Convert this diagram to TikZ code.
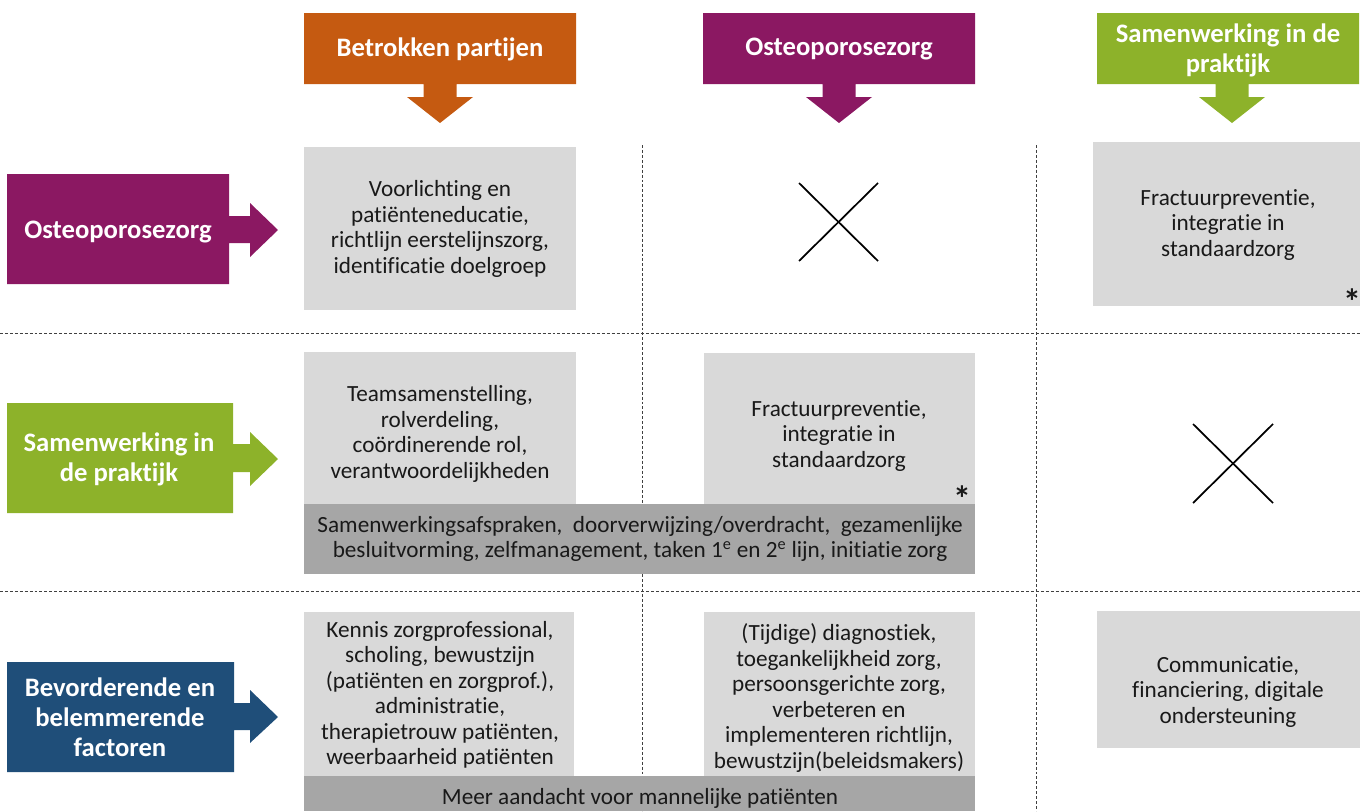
\documentclass[tikz,border=0pt]{standalone}
\usepackage{fontspec}
\setmainfont{Carlito}[RawFeature=-liga]
\usepackage{tikz}
\definecolor{partijen}{HTML}{C55A11}
\definecolor{zorg}{HTML}{8B1862}
\definecolor{samen}{HTML}{8DB22A}
\definecolor{factoren}{HTML}{1F4E79}
\definecolor{cell}{HTML}{D9D9D9}
\definecolor{bar}{HTML}{A6A6A6}

\begin{document}
\begin{tikzpicture}[x=0.75pt,y=-0.75pt,
  txt/.style={align=center,inner sep=0pt,text=black!90,font=\fontsize{17.4}{19.1}\selectfont},
  hdr/.style={align=center,inner sep=0pt,text=white,font=\fontsize{20}{22.5}\selectfont\bfseries},
  ster/.style={inner sep=0pt,text=black!90,font=\fontsize{27}{27}\selectfont\bfseries},
  grid/.style={dash pattern=on 2.2pt off 1.5pt,line width=0.7pt,black!75},
  cross/.style={line width=1.3pt,black}]
\useasboundingbox (0,0) rectangle (1360,811);
% dashed grid
\draw[grid] (0,333)--(1360,333);
\draw[grid] (0,591)--(1360,591);
\draw[grid] (642,145)--(642,811);
\draw[grid] (1036,145)--(1036,811);
% column headers
\fill[partijen] (304,13)--(576,13)--(576,84)--(456.5,84)--(456.5,97)--(473,97)--(440,123)--(407,97)--(423.5,97)--(423.5,84)--(304,84)--cycle;
\fill[zorg] (703,13)--(975,13)--(975,84)--(855.5,84)--(855.5,97)--(872,97)--(839,123)--(806,97)--(822.5,97)--(822.5,84)--(703,84)--cycle;
\fill[samen] (1097,13)--(1359,13)--(1359,84)--(1248.5,84)--(1248.5,97)--(1265,97)--(1232,123)--(1199,97)--(1215.5,97)--(1215.5,84)--(1097,84)--cycle;
\node[hdr] (hpartijen) at (440,49) {Betrokken partijen};
\node[hdr] (hzorg) at (839,49) {Osteoporosezorg};
\node[hdr] (hsamen) at (1228,50) {Samenwerking in de\\praktijk};
% row labels
\fill[zorg] (7,174)--(229,174)--(229,216)--(250,216)--(250,203)--(278,230)--(250,257)--(250,243)--(229,243)--(229,284)--(7,284)--cycle;
\fill[samen] (7,403)--(233,403)--(233,444)--(250,444)--(250,432)--(278,459)--(250,486)--(250,472)--(233,472)--(233,513)--(7,513)--cycle;
\fill[factoren] (7,662)--(234,662)--(234,703)--(250,703)--(250,690)--(278,717)--(250,743)--(250,730)--(234,730)--(234,772)--(7,772)--cycle;
\node[hdr] (lzorg) at (118,232) {Osteoporosezorg};
\node[hdr] (lsamen) at (119,459) {Samenwerking in\\de praktijk};
\node[hdr] (lfactoren) at (120,717) {Bevorderende en\\belemmerende\\factoren};
% row 1
\fill[cell] (304,147) rectangle (576,310);
\fill[cell] (1093,142) rectangle (1360,306);
\node[txt] (zorgpartijen) at (440,229) {Voorlichting en\\patiënteneducatie,\\richtlijn eerstelijnszorg,\\identificatie doelgroep};
\node[txt] (zorgsamen) at (1228,225) {Fractuurpreventie,\\integratie in\\standaardzorg};
\node[ster] (ster1) at (1352,302) {*};
\draw[cross] (799,183)--(878,261);
\draw[cross] (878,183)--(799,261);
% row 2
\fill[cell] (304,352) rectangle (576,504);
\fill[cell] (704,353) rectangle (975,504);
\fill[bar] (304,504) rectangle (975,574);
\node[txt] (samenpartijen) at (440,434) {Teamsamenstelling,\\rolverdeling,\\coördinerende rol,\\verantwoordelijkheden};
\node[txt] (samenzorg) at (839,436) {Fractuurpreventie,\\integratie in\\standaardzorg};
\node[ster] (ster2) at (962,499) {*};
\node[txt] (samenbalk) at (640,539) {Samenwerkingsafspraken, \ doorverwijzing/overdracht, \ gezamenlijke\\besluitvorming, zelfmanagement, taken 1\textsuperscript{e} en 2\textsuperscript{e} lijn, initiatie zorg};
\draw[cross] (1193,424)--(1273,503);
\draw[cross] (1273,424)--(1193,503);
% row 3
\fill[cell] (304,612) rectangle (574,776);
\fill[cell] (704,612) rectangle (975,776);
\fill[cell] (1097,611) rectangle (1360,748);
\fill[bar] (304,776) rectangle (975,811);
\node[txt] (factpartijen) at (440,695) {Kennis zorgprofessional,\\scholing, bewustzijn\\(patiënten en zorgprof.),\\administratie,\\therapietrouw patiënten,\\weerbaarheid patiënten};
\node[txt] (factzorg) at (839,698) {(Tijdige) diagnostiek,\\toegankelijkheid zorg,\\persoonsgerichte zorg,\\verbeteren en\\implementeren richtlijn,\\bewustzijn(beleidsmakers)};
\node[txt] (factsamen) at (1228,692) {Communicatie,\\financiering, digitale\\ondersteuning};
\node[txt] (factbalk) at (640,798) {Meer aandacht voor mannelijke patiënten};
\end{tikzpicture}
\end{document}
